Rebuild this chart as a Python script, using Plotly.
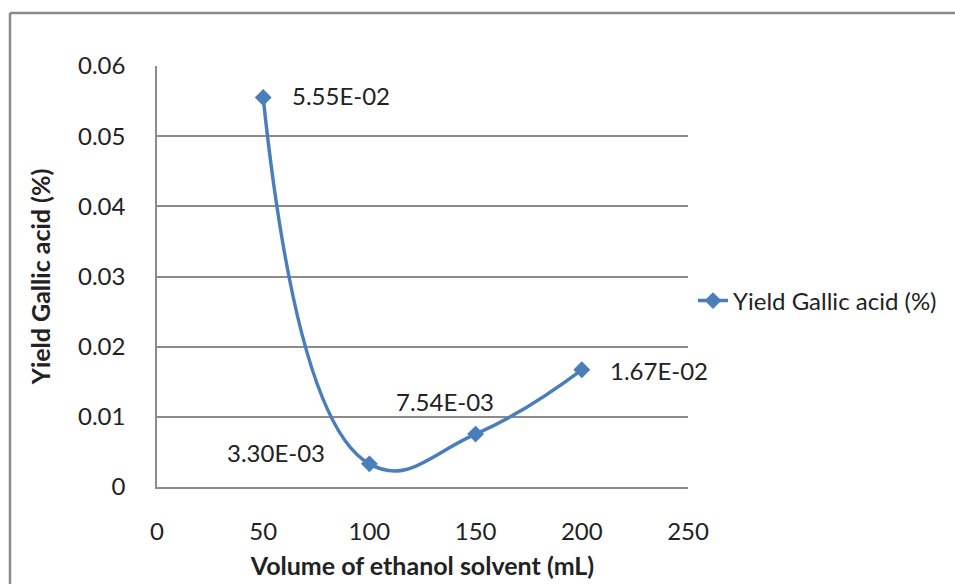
import plotly.graph_objects as go

volume = [50, 100, 150, 200]
yield_ga = [0.0555, 0.0033, 0.00754, 0.0167]
labels = ["5.55E-02", "3.30E-03", "7.54E-03", "1.67E-02"]
series_name = "Yield Gallic acid (%)"

W, H = 955, 584
L, R, T, B = 157, 688, 66, 487
FONT = "Lato, 'Open Sans', sans-serif"
BLUE = "#4A7EBB"
GRID = "#8C8C8C"
FS = 24

fig = go.Figure()
fig.add_trace(go.Scatter(
    x=volume, y=yield_ga, mode="lines+markers", name=series_name,
    line=dict(color=BLUE, width=3.5, shape="spline", smoothing=1.3),
    marker=dict(symbol="diamond", size=13, color=BLUE),
))

# data labels
anch = [("left", 27, 2), ("right", -42, 11), ("center", -31, 33), ("left", 26, -1)]
for xv, yv, t, (xa, xs, ys) in zip(volume, yield_ga, labels, anch):
    fig.add_annotation(x=xv, y=yv, text=t, showarrow=False, xanchor=xa,
                       xshift=xs, yshift=ys, font=dict(size=FS, color="#222", family=FONT))

# chart-area border (top and left edges visible in the crop)
pw, ph = R - L, B - T
bx0, by_top = (10 - L) / pw, (B - 13) / ph
fig.add_shape(type="line", xref="paper", yref="paper",
              x0=bx0, x1=(W - L) / pw, y0=by_top, y1=by_top,
              line=dict(color="#8A8A8A", width=2.5), layer="below")
fig.add_shape(type="line", xref="paper", yref="paper",
              x0=bx0, x1=bx0, y0=(B - H) / ph, y1=by_top,
              line=dict(color="#8A8A8A", width=2.5), layer="below")

fig.update_layout(
    width=W, height=H,
    margin=dict(l=L, r=W - R, t=T, b=H - B, autoexpand=False),
    paper_bgcolor="white", plot_bgcolor="white",
    font=dict(family=FONT, size=FS, color="#222"),
    showlegend=True,
    legend=dict(x=(693 - L) / pw, y=(B - 301) / ph, xanchor="left", yanchor="middle",
                font=dict(size=FS, family=FONT), bgcolor="rgba(0,0,0,0)",
                itemwidth=30),
    xaxis=dict(range=[0, 250], dtick=50, tick0=0, showgrid=False, zeroline=False,
               showline=True, linecolor=GRID, linewidth=1.5, automargin=False,
               ticks="outside", ticklen=22, tickcolor="rgba(0,0,0,0)",
               title=dict(text="<b>Volume of ethanol solvent (mL)</b>", standoff=14,
                          font=dict(size=25, family=FONT))),
    yaxis=dict(range=[0, 0.06], dtick=0.01, tick0=0, showgrid=True, gridcolor=GRID,
               gridwidth=1.5, zeroline=False, showline=True, linecolor=GRID, linewidth=1.5,
               automargin=False,
               ticks="outside", ticklen=25, tickcolor="rgba(0,0,0,0)",
               tickformat="~g",
               title=dict(text="<b>Yield Gallic acid (%)</b>", standoff=20,
                          font=dict(size=25, family=FONT))),
)

fig.write_html("out.html", post_script="document.body.style.margin='0';document.body.style.overflow='hidden';")
